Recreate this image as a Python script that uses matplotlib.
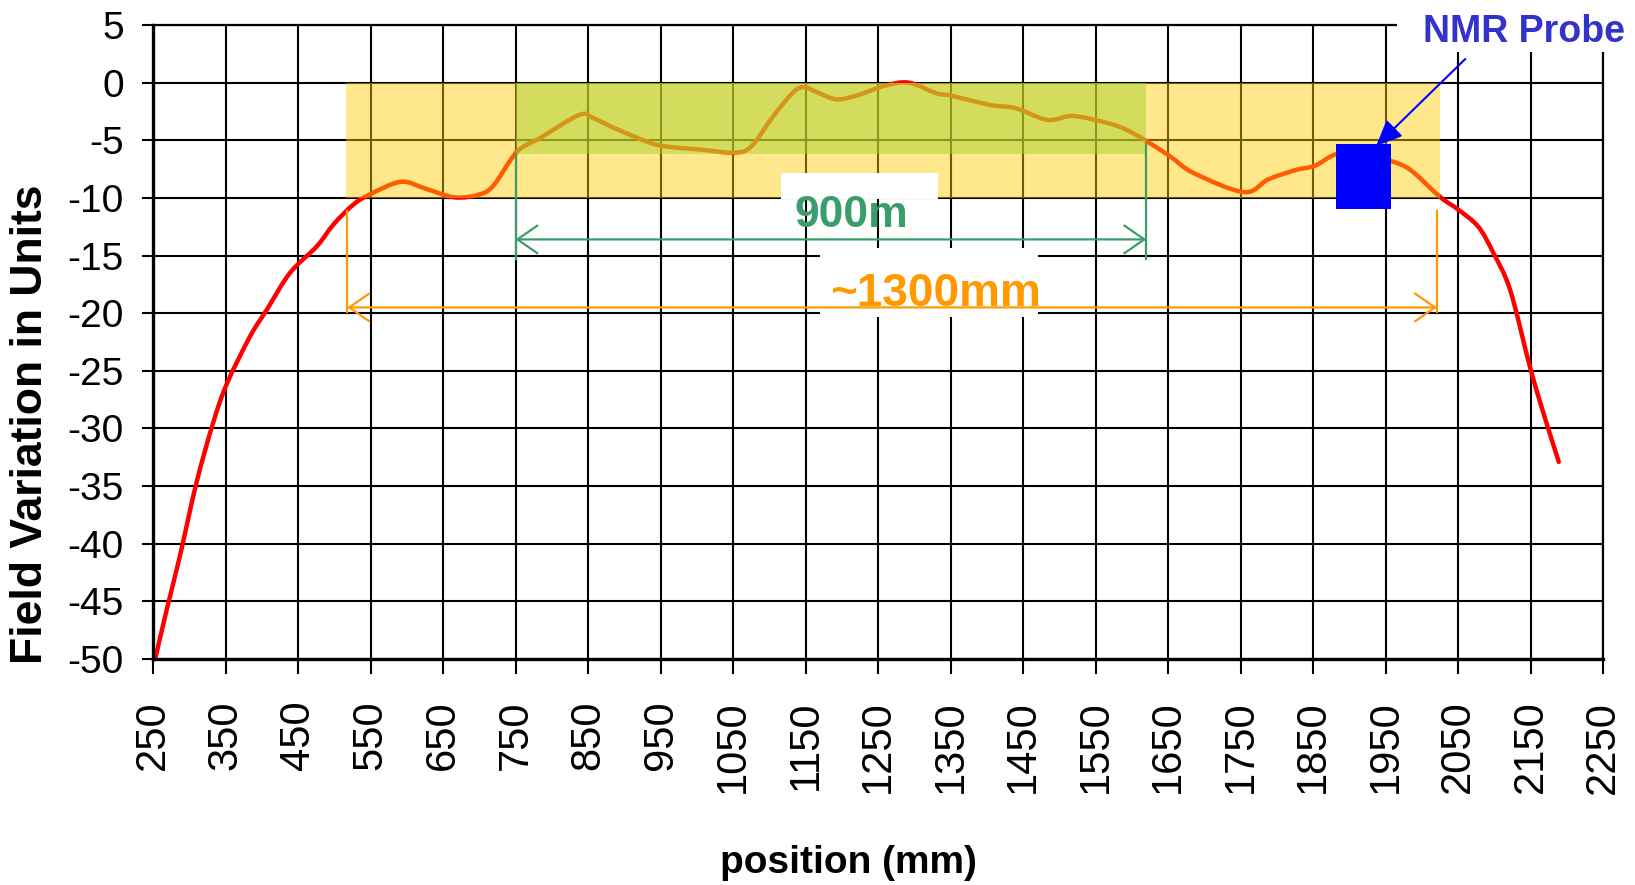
import numpy as np
import matplotlib
matplotlib.use("Agg")
import matplotlib.pyplot as plt
from matplotlib.patches import Rectangle, PathPatch
from matplotlib.path import Path

position_mm = [253, 269, 287, 310, 333, 352, 384, 407, 439, 476, 499, 526, 549, 592,
               626, 666, 700, 720, 752, 784, 838, 858, 892, 946, 1004, 1051, 1075,
               1105, 1134, 1149, 1164, 1193, 1223, 1258, 1292, 1331, 1351, 1405, 1440,
               1484, 1519, 1568, 1593, 1621, 1653, 1686, 1755, 1788, 1825, 1853, 1882,
               1920, 1958, 1985, 2025, 2050, 2078, 2099, 2122, 2149, 2168, 2189]
field_units = [-50.0, -45.7, -41.1, -34.7, -29.5, -26.1, -22.0, -19.7, -16.5, -14.2,
               -12.3, -10.6, -9.7, -8.6, -9.2, -9.95, -9.7, -8.9, -6.0, -4.8, -2.8,
               -3.1, -4.1, -5.4, -5.8, -6.07, -5.55, -2.95, -0.78, -0.4, -0.78, -1.45,
               -1.07, -0.29, 0.0, -0.93, -1.13, -1.94, -2.22, -3.24, -2.89, -3.53,
               -4.1, -5.1, -6.4, -7.86, -9.5, -8.4, -7.6, -7.2, -6.2, -6.0, -6.8,
               -7.6, -9.9, -11.0, -12.5, -14.8, -18.0, -24.6, -28.7, -32.9]

xticks = list(range(250, 2251, 100))
yticks = list(range(-50, 6, 5))

# highlighted regions
wide_band_x = (516, 2025)
wide_band_y = (-10, 0)
core_band_x = (750, 1620)
core_band_y = (-6.2, 0)
probe_x = (1882, 1958)
probe_y = (-11.0, -5.3)

# dimension arrows
span_900 = (750, 1620)
span_900_y = -13.6
span_1300 = (518, 2021)
span_1300_y = -19.5

font = "Liberation Sans"


def smooth_line(x, y):
    # excel-style smoothed line: catmull-rom segments as cubic beziers
    p = np.column_stack([x, y]).astype(float)
    ext = np.vstack([p[0], p, p[-1]])
    verts = [p[0]]
    codes = [Path.MOVETO]
    for i in range(1, len(ext) - 2):
        c1 = ext[i] + (ext[i + 1] - ext[i - 1]) / 6
        c2 = ext[i + 1] - (ext[i + 2] - ext[i]) / 6
        verts += [c1, c2, ext[i + 1]]
        codes += [Path.CURVE4] * 3
    return Path(verts, codes)


fig = plt.figure(figsize=(16.35, 8.85), dpi=100)
ax = fig.add_axes([153 / 1635, 1 - 659 / 885, 1450 / 1635, 634 / 885])

ax.set_xlim(250, 2250)
ax.set_ylim(-50, 5)
ax.set_xticks(xticks)
ax.set_yticks(yticks)
ax.set_xticklabels([str(t) for t in xticks], rotation=90, family=font, fontsize=30)
ax.set_yticklabels([str(t) for t in yticks], family=font, fontsize=28)
ax.tick_params(axis="x", length=11, width=1.5, pad=19, direction="out")
ax.tick_params(axis="y", length=8, width=1.5, pad=13, direction="out")
ax.set_axisbelow(True)
ax.grid(True, color="black", linewidth=1.5)
for side in ["left", "bottom"]:
    ax.spines[side].set_linewidth(2.4)
for side in ["top", "right"]:
    ax.spines[side].set_linewidth(1.6)

# curve sits under the translucent bands so it turns orange inside them
ax.add_patch(PathPatch(smooth_line(position_mm, field_units), fill=False,
                       edgecolor="#FF0000", linewidth=3.2, capstyle="round", zorder=0.8))

ax.add_patch(Rectangle((wide_band_x[0], wide_band_y[0]), wide_band_x[1] - wide_band_x[0],
                       wide_band_y[1] - wide_band_y[0], facecolor="#FFCC00", alpha=0.45,
                       edgecolor="none", zorder=1.5))
ax.add_patch(Rectangle((core_band_x[0], core_band_y[0]), core_band_x[1] - core_band_x[0],
                       core_band_y[1] - core_band_y[0], facecolor="#AAD232", alpha=0.5,
                       edgecolor="none", zorder=1.6))
ax.add_patch(Rectangle((probe_x[0], probe_y[0]), probe_x[1] - probe_x[0],
                       probe_y[1] - probe_y[0], facecolor="#0000FF", edgecolor="none",
                       zorder=4))

# white backgrounds behind the labels
ax.add_patch(Rectangle((1116, -10.09), 217, 2.28, facecolor="white", edgecolor="none", zorder=3))
ax.add_patch(Rectangle((1170, -20.33), 301, 6.0, facecolor="white", edgecolor="none", zorder=3))
ax.add_patch(Rectangle((1966, 2.66), 330, 4.6, facecolor="white", edgecolor="none",
                       zorder=5, clip_on=False))

green = "#3A9E6C"
orange = "#FF9900"
arrow_kw = dict(arrowstyle="<->,head_length=0.72,head_width=0.5", mutation_scale=20,
                shrinkA=0, shrinkB=0, linewidth=1.6)

ax.annotate("", xy=(span_900[0], span_900_y), xytext=(span_900[1], span_900_y),
            arrowprops=dict(color=green, **arrow_kw), zorder=4)
ax.plot([span_900[0]] * 2, [-6.2, -15.3], color=green, linewidth=1.6, zorder=4)
ax.plot([span_900[1]] * 2, [-5.3, -15.3], color=green, linewidth=1.6, zorder=4)
ax.text(1213, -11.5, "900m", color=green, fontsize=32, fontweight="bold", family=font,
        ha="center", va="center", zorder=4.5)

ax.annotate("", xy=(span_1300[0], span_1300_y), xytext=(span_1300[1], span_1300_y),
            arrowprops=dict(color=orange, **arrow_kw), zorder=4)
ax.plot([span_1300[0]] * 2, [-11.1, -19.9], color=orange, linewidth=1.6, zorder=4)
ax.plot([span_1300[1]] * 2, [-11.1, -19.9], color=orange, linewidth=1.6, zorder=4)
ax.text(1329, -18.3, "~1300mm", color=orange, fontsize=33, fontweight="bold", family=font,
        ha="center", va="center", zorder=4.5)

ax.annotate("", xy=(1937, -5.5), xytext=(2060, 2.05),
            arrowprops=dict(arrowstyle="-|>,head_length=0.8,head_width=0.35", color="#0000FF",
                            mutation_scale=20, shrinkA=0, shrinkB=0, linewidth=1.5),
            zorder=6, annotation_clip=False)
ax.text(2002, 3.53, "NMR Probe", color="#3333CC", fontsize=27, fontweight="bold",
        family=font, ha="left", va="baseline", zorder=6, clip_on=False)

fig.text(31 / 1635, 1 - 424 / 885, "Field Variation in Units", rotation=90, fontsize=32,
         fontweight="bold", family=font, ha="center", va="center")
fig.text(848 / 1635, 1 - 863 / 885, "position (mm)", fontsize=28, fontweight="bold",
         family=font, ha="center", va="center")

fig.savefig("out.png", dpi=100)
